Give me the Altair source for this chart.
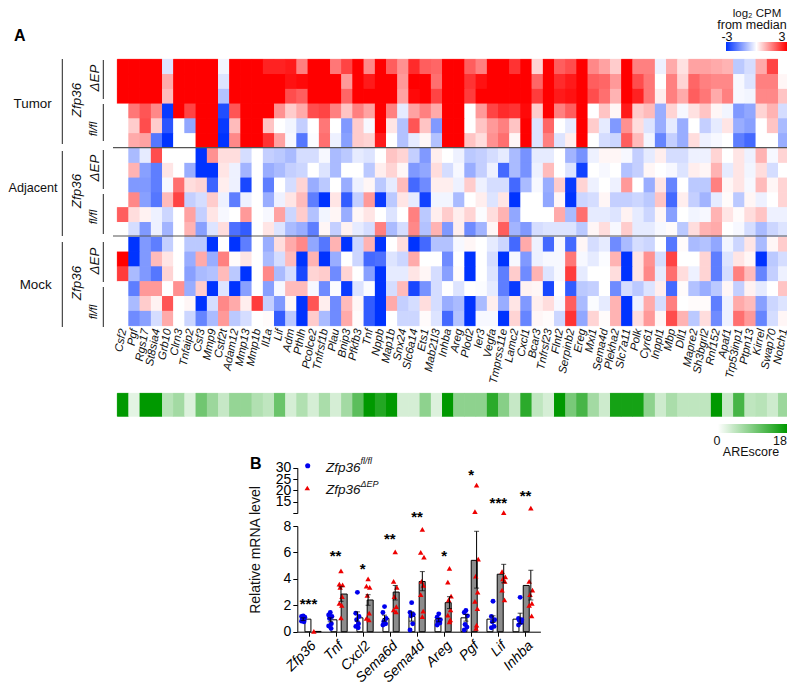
import json
import altair as alt
import pandas as pd

genes = ["Csf2","Pgf","Rgs17","St8sia4","Grb10","Clrn3","Tnfaip2","Csf3","Mmp9","Cstf2t","Adam12","Mmp13","Mmp1b","Il1a","Lif","Adm","Pthlh","Pcolce2","Tnfrsf1b","Plau","Bnip3","Pfkfb3","Tnf","Nppb","Map1b",
         "Snx24","Slc6a14","Ets1","Mab21l3","Inhba","Areg","Plod2","Ier3","Vegfa","Tmprss11e","Lamc2","Cxcl1","Bcar3","Tnfrsf23","Flnt2","Serpinb2","Ereg","Mxi1","Sema4d","Plekha2","Slc7a11","Polk","Cyr61","Inppl1","Mbp","Dll1","Mapre2","Sh3bgrl2","Rnf152","Apaf1","Trp53inp1","Ptpn13","Kirrel","Swap70","Notch1"]

r01 = [3,3,3,3,-0.4,3,3,3,3,-0.15,3,3,3,2.6,2.6,2.7,1.5,3,3,1.6,2.2,3,1.4,3,1.9, 1.3,2.5,1.9,1.8,3,3,1.9,1.5,3,3,2.4,3,0.5,3,1.9,2.1,3,1.4,1.1,0.6,3,1.5,1.5,-0.2,1.0,0.35,1.1,1.1,1.0,0.9,-0.8,-0.5,1.0,2.2,0]
r02 = [3,3,3,3,1.0,3,3,3,3,-0.4,3,3,3,3,3,2.8,2.9,3,3,3,1.2,3,2.7,3,3, 1.2,3,3,1.7,3,3,2.4,2.8,3,3,3,3,1.8,3,2.5,2.7,3,1.9,1.8,1.2,3,2.1,1.6,0,1.5,0.5,1.8,1.5,1.4,1.4,-0.1,-0.4,1.5,1.5,0.1]
r03 = [3,3,3,3,0.8,3,3,3,3,-0.9,3,3,3,3,3,2.1,1.9,3,3,3,1.8,3,3,3,3, 1.1,2.9,3,2.2,3,3,2.3,3,3,3,3,3,2.3,3,2.7,2.8,3,2.1,1.7,0.9,3,2.6,1.6,0.2,1.5,1.0,1.9,1.6,1.0,1.5,-0.1,-0.15,1.4,1.4,0.7]
r04 = [0,1.6,2.0,1.4,-2.9,3,2.2,3,3,-2.6,2.0,3,3,3,1.3,0.6,1.0,2.1,2.2,1.5,0.7,1.5,1.1,3,1.5, -0.3,1.1,1.5,1.0,3,3,0,1.2,2.2,2.5,2.4,2.9,0.6,3,1.5,1.9,3,0,0.7,0.1,2.7,0.6,0.8,-1.2,0.5,-0.1,0.35,0.7,0.1,-0.15,-1.5,-1.3,0.5,0.9,-0.5]
r05 = [0,0.6,2.1,0.6,-2.5,0,-1.3,3,3,-2.9,0.8,3,3,0.7,0,-0.15,-0.7,0,1.6,0,-1.5,0.6,-0.1,3,0.3, -0.9,2.0,0.7,-1.5,3,3,0,0.7,1.2,1.5,0.7,3,-0.4,1.8,0,-0.3,3,0.6,-0.3,-1.5,1.3,0.4,-0.4,-1.2,-0.3,-1.2,0,-0.7,-0.3,0.3,-1.2,-1.4,0,0.7,-1.0]
r06 = [0,1.0,1.1,-2.0,-3,0,0,3,3,-3,1.4,3,3,2.4,1.1,-0.1,-2.0,-0.05,1.7,-0.2,-1.4,0.6,0.5,2.7,0, -0.9,-0.3,0.1,-0.9,3,3,0.7,0.4,1.3,1.7,0.1,3,-0.4,1.5,-0.4,0.2,3,0,-0.5,-0.6,1.9,0.8,-0.15,-1.8,-0.7,-1.2,0.4,-0.2,-0.1,0,-1.9,-2.2,0,0,-1.2]
r07 = [0,-1.0,-0.3,2.1,0,0,0,-3,1.3,0.4,0.4,-0.5,0,-0.7,-0.8,-1.0,-0.5,-0.5,-0.1,-1.0,-0.8,-0.3,-0.4,0,0.7, 0.5,-0.7,-1.5,0.2,0,-0.2,-0.8,-0.7,-0.5,-0.3,-1.0,-1.6,-0.3,-0.3,0,-1.1,-1.6,-0.2,0.1,0.1,-0.1,-0.7,-0.3,0.2,-0.5,-0.5,-0.2,-0.2,0.5,0,0.3,-0.2,0.9,-0.1,0.5]
r08 = [0,0.9,-1.4,-1.9,0.3,0,-1.2,-3,-3,0.3,-0.2,-1.1,0,-1.2,-1.0,-0.7,-0.6,0,-0.4,-1.0,0,0,-0.8,0.2,0.5, 0.1,-1.5,-1.3,0.4,-0.5,-0.1,-1.2,-0.7,-0.2,-2.2,-1.0,-1.6,-0.2,0.8,0,-0.4,-2.8,0,-0.1,0,-0.9,-0.7,0.1,0,-0.1,-0.4,0.2,0.1,0.9,-0.3,0.3,-0.15,0.4,-0.5,0]
r09 = [0,-1.5,-1.5,-1.9,-0.1,1.7,0.4,0.5,-2.3,0.2,-0.2,-2.7,0,-1.9,0,-0.5,0.5,-1.2,-0.8,0,-1.2,-0.2,0.1,-0.8,-0.3, 0.8,-2.2,-1.7,0.2,0.2,-0.2,0.6,-0.2,-0.5,-0.5,-2.2,-1.0,-0.1,-1.2,0.6,-2.9,0.5,-0.2,0,-0.2,1.2,0,-1.2,0.3,-1.8,0,-0.8,-0.8,1.5,0.1,0.3,-0.1,0.8,0.1,0.5]
r10 = [0,1.4,-1.4,-2.0,0.8,2.2,-0.7,-0.5,0.6,-0.2,-1.9,-0.2,0,-1.2,-0.2,0.3,0.8,-1.9,-3,0.3,-2.4,-0.7,1.2,-2.9,-0.8, 0.3,-0.3,-2.8,-0.15,-0.15,-1.0,0,0.2,-0.4,0.3,-3,0,0,-1.3,0.1,-3,-0.6,-0.5,0.1,-0.7,-0.7,-0.6,-0.8,0.7,-2.2,0.2,-0.7,-1.1,-0.3,0.05,-0.8,0.1,-0.2,0,0.5]
r11 = [1.9,0.4,0.15,-0.2,-0.6,0,1.1,-0.7,0.3,-0.1,0,1.2,0,-0.1,1.1,-0.6,0.6,-0.9,-0.15,0.1,-1.2,0.1,0.3,0,-0.4, 0,1.5,-0.8,0.2,0.6,0.2,0.5,-0.05,0.4,0.9,-1.3,0,0,0,1.0,-1.0,1.7,-0.3,-0.3,-0.4,0.15,-0.3,-0.6,0.1,-1.4,0,-0.15,-0.1,0.9,0.3,0.05,0.4,0.7,-0.2,-0.2]
r12 = [0,-0.5,-1.5,-0.2,-1.1,0,0.9,-1.4,-0.4,0.4,-2.1,-2.4,0,0.3,-0.4,-1.0,-1.2,-1.9,0.1,-0.7,0.15,-0.3,-0.5,1.5,-1.0, -0.5,1.4,-0.9,0.9,-1.5,0.2,-1.7,-1.1,0.1,1.9,-1.1,-1.5,-0.5,-0.4,-0.4,-0.4,-0.8,0.1,0.4,-0.1,0.6,-0.3,-0.3,-0.1,0.05,-0.8,0.4,0.9,1.0,0,-0.1,-0.5,-1.0,-0.6,-0.4]
r13 = [0,-3,-1.5,-1.9,-0.7,0,-0.8,-0.8,-3,0,-3,-1.9,0,-1.2,0.4,1.0,1.4,-1.3,-2,0.9,-3,-0.6,0.9,-3,0, 0.4,-3,-2.2,-0.9,-0.9,-0.1,0.1,0,-0.3,-0.6,-2.2,1.0,-0.2,-2.2,-0.1,-2.2,0.1,-0.5,-0.3,-1.7,-1.0,-0.5,-0.6,0,-2.0,0.05,-1.0,-0.9,-1.3,-0.15,-0.6,0.3,-1.0,0.1,0.6]
r14 = [3,-3,-1.5,0.8,0.3,0,-1.2,1.0,-1.2,1.5,0.05,0.3,0,-1.0,-0.5,0.8,-3,0.9,-3,-1.2,0,-0.6,-2.2,-2.1,-0.4, -0.6,1.0,0,0,-1.7,0,-3,0,-0.5,-3,-0.1,-1.5,-0.2,-0.1,-0.1,1.6,-0.1,-0.3,-0.05,0.9,-3,0.3,1.3,-0.5,2.2,0,0,0.5,-1.9,-0.4,0.3,0.1,-3,-0.8,-0.5]
r15 = [2.3,-1.0,-1.5,-2.0,0.5,0,-1.4,-1.0,-0.9,0.8,-0.8,-3,0,1.4,-1.0,-0.5,-2.7,0.5,0.6,-1.7,0.5,0,-1.4,-3,-0.3, -0.3,0.3,0.1,-0.5,-1.4,0.05,-3,0,-0.4,-1.9,0.6,-1.7,0.9,-0.4,-0.1,2.3,-0.3,0,0,0.4,-3,0.3,1.4,-0.3,1.7,0.4,-0.2,0.5,-1.9,-0.5,1.5,0.8,-1.8,-0.7,-0.2]
r16 = [0,-1.9,1.2,1.2,0,1.3,-1.2,0.6,-3,-0.4,-3,-1.4,0,-1.4,-0.1,0.8,0.8,-0.1,-1.7,-0.05,-2.9,-0.4,-0.05,-3,-0.5, 0.8,-2.7,-1.6,-0.5,0,-0.4,0,-0.05,-0.3,-1.9,-2.9,0.15,0.1,-2.7,0,-2.4,-0.8,-0.7,0,-1.7,-0.5,-0.8,-0.4,0.2,-2.2,0.05,-0.9,-1.2,-0.8,0.1,-0.7,0.15,-0.3,0,0.7]
r17 = [0,-1.0,0.6,0.15,2.0,0,0.1,-3,-0.5,1.4,1.0,0.2,2.3,-0.7,-1.5,0.1,-3,2.0,0.2,-1.7,0.8,0.1,-2.4,-3,1.0, -0.7,-0.5,0.4,-0.5,-1.2,-1.0,-3,-1.0,0.2,-1.2,0.3,-1.5,0.2,0.4,-0.1,1.9,-1.0,-0.05,-0.3,0.9,-3,-0.2,1.0,-0.5,1.5,0,0.05,0.05,-1.9,-0.2,1.0,0.8,-1.4,-0.6,-0.4]
r18 = [0,-1.7,-1.4,-0.5,1.0,0,-0.6,-1.8,-1.0,1.2,-0.8,-0.5,0,0.05,-2.4,-0.8,-3,0.6,-1.0,-1.7,1.0,0.05,-2.4,-3,0, -0.6,-0.6,0.05,-0.4,-2.2,-0.9,-3,-0.1,-0.1,-3,0.5,-1.8,0.1,0.05,-0.6,2.4,-1.3,0.5,0.05,0.9,-3,0.4,1.2,0.1,2.1,0.9,-0.8,0.4,-1.7,-0.2,1.7,1.2,-1.8,-0.5,0.1]
heat_rows = [r01,r02,r03,r04,r05,r06,r07,r08,r09,r10,r11,r12,r13,r14,r15,r16,r17,r18]

are_score = [18,2,18,18,5,6.5,2.5,10,7,4,7.5,7.5,5.5,4.5,10.5,3,5.5,3,6,3,6.5,11.5,18,15.5,18,
             3,3,8,2.5,18,8,8,8,15,8.5,4,15,4.5,3,18,9.5,13,6.5,3.5,16.5,16.5,16.5,8,3.5,6,4.5,4.5,4.5,18,4,13,4.5,5,3.5,7]

qpcr_genes = ["Zfp36","Tnf","Cxcl2","Sema6d","Sema4d","Areg","Pgf","Lif","Inhba"]
mean_fl = [0.95,0.9,1.05,1.0,1.15,0.9,1.05,0.95,0.95]
low_fl  = [0.85,0.75,0.8,0.8,0.8,0.75,0.8,0.7,0.6]
high_fl = [1.05,1.05,1.5,1.25,1.5,1.0,1.3,1.2,1.4]
mean_ep = [0.02,2.85,2.4,3.0,3.8,2.2,5.4,4.35,3.5]
low_ep  = [0.02,2.3,2.0,2.4,3.1,1.75,3.3,3.7,2.4]
high_ep = [0.02,3.4,2.8,3.5,4.55,2.65,7.6,5.1,4.65]
pts_fl = [[1.2,1.15,1.1,1.0,0.9,0.8,0.75],
          [1.46,1.26,1.15,1.0,0.6,0.43,0.25],
          [2.98,1.4,1.15,0.9,0.6,0.4,0.3],
          [1.9,1.45,1.0,0.75,0.6,0.5],
          [2.2,1.45,1.3,1.2,0.6,0.13],
          [1.35,1.1,0.9,0.75,0.65,0.5],
          [1.6,1.45,1.2,0.55,0.35,0.13],
          [2.3,1.15,0.9,0.75,0.4,0.3],
          [2.6,1.0,0.9,0.85,0.7,0.5]]
pts_ep = [[0.02],
          [4.6,3.6,3.55,3.35,2.65,2.15,2.0,1.05],
          [4.0,3.45,3.35,2.75,1.4,1.0,0.9],
          [6.05,3.8,3.35,2.65,1.9,1.65,1.5],
          [7.75,6.0,5.65,3.8,3.5,2.8,1.55,1.15],
          [4.8,3.75,2.7,2.4,1.65,1.25,0.9,0.75],
          [22.35,10.65,5.5,4.2,3.0,2.3,1.75,0.5,0.25],
          [10.2,4.55,4.15,4.0,3.8,3.15,2.4],
          [12.2,3.8,3.15,2.8,2.15,2.0,1.2]]
jitter = [0.0,-0.06,0.06,-0.03,0.04,-0.06,0.03,0.0,-0.02]
stars = ["***","**","*","**","**","*","*","***","**"]
star_level = [2.25,5.9,4.9,7.2,8.8,5.9,12.0,9.9,10.4]

FONT = "Liberation Sans"
W, H = 779, 674
def px(v):
    return v - 8

hm_x = [px(117.3), px(789.3)]
hm_y = [px(59.3), px(325.7)]
are_y = [px(393.3), px(416.3)]
gx_scale = alt.Scale(domain=[-0.4133, 8.55], range=[px(297.3), px(540.4)])
low_scale = alt.Scale(domain=[0, 8], range=[px(631.7), px(526)])
up_scale = alt.Scale(domain=[10, 30], range=[px(513), px(467.7)])
OFF = 0.197

heat_df = pd.DataFrame([{"gene": g, "row": i, "v": row[j]}
                        for i, row in enumerate(heat_rows) for j, g in enumerate(genes)])
are_df = pd.DataFrame({"gene": genes, "score": are_score, "band": ["a"] * len(genes)})
gene_df = pd.DataFrame({"gene": genes})

def text(t, x, y, size=13, **kw):
    return alt.Chart(pd.DataFrame({"t": [t]})).mark_text(fontSize=size, font=FONT, **kw).encode(
        text="t:N", x=alt.value(px(x)), y=alt.value(px(y)))

def vline(x, y1, y2, color="#222222"):
    return alt.Chart(pd.DataFrame({"a": [0]})).mark_rule(color=color, strokeWidth=1).encode(
        x=alt.value(px(x)), y=alt.value(px(y1)), y2=alt.value(px(y2)))

def hline(x1, x2, y, color="#555555"):
    return alt.Chart(pd.DataFrame({"a": [0]})).mark_rule(color=color, strokeWidth=1.2).encode(
        x=alt.value(px(x1)), x2=alt.value(px(x2)), y=alt.value(px(y)))

layers = []

heat_colors = alt.Scale(domain=[-3, 0, 3], range=["#0033ff", "#ffffff", "#ff0000"], interpolate="rgb")
are_colors = alt.Scale(domain=[0, 18], range=["#ffffff", "#009900"], interpolate="rgb")
gene_x = alt.X("gene:N", sort=genes, axis=None, scale=alt.Scale(domain=genes, range=hm_x, paddingInner=0, paddingOuter=0))
row_y = alt.Y("row:O", axis=None, scale=alt.Scale(domain=list(range(18)), range=hm_y, paddingInner=0, paddingOuter=0))
band_y = alt.Y("band:N", axis=None, scale=alt.Scale(domain=["a"], range=are_y, paddingInner=0, paddingOuter=0))

# underlayer closes the hairline seams between cells
layers.append(alt.Chart(heat_df).mark_rect(strokeWidth=0.6).encode(
    x=gene_x, y=row_y,
    color=alt.Color("v:Q", scale=heat_colors, legend=None),
    stroke=alt.Stroke("v:Q", scale=heat_colors, legend=None),
))
layers.append(alt.Chart(heat_df).mark_rect().encode(
    x=gene_x, y=row_y,
    color=alt.Color("v:Q", scale=heat_colors,
                    legend=alt.Legend(orient="none", legendX=px(726), legendY=px(42), direction="horizontal",
                                      gradientLength=61, gradientThickness=9, title=None, labelExpr="''",
                                      gradientStrokeWidth=0, tickCount=2)),
))

layers.append(alt.Chart(gene_df).mark_text(angle=281, align="right", baseline="middle", fontStyle="italic",
                                           fontSize=11.3, font=FONT, dx=3, color="#111111").encode(
    x=gene_x,
    y=alt.value(px(332)),
    text="gene:N",
))

layers.append(alt.Chart(are_df).mark_rect(strokeWidth=0.6).encode(
    x=gene_x, y=band_y,
    color=alt.Color("score:Q", scale=are_colors, legend=None),
    stroke=alt.Stroke("score:Q", scale=are_colors, legend=None),
))
layers.append(alt.Chart(are_df).mark_rect().encode(
    x=gene_x, y=band_y,
    color=alt.Color("score:Q", scale=are_colors,
                    legend=alt.Legend(orient="none", legendX=px(718), legendY=px(424), direction="horizontal",
                                      gradientLength=69, gradientThickness=9, title=None, labelExpr="''",
                                      gradientStrokeWidth=0, tickCount=2)),
))

for y in (147.7, 236):
    layers.append(hline(113, 787, y))
for a, b in ((59, 144), (151, 236), (242, 327)):
    layers.append(vline(62.3, a, b))
for a, b in ((60, 99), (104, 141), (150, 189), (194, 234), (242, 282), (287, 327)):
    layers.append(vline(103.3, a, b))

layers.append(text("Tumor", 51.7, 104, 13.4, align="right", baseline="middle", color="#111111"))
layers.append(text("Adjacent", 57.5, 188, 12.6, align="right", baseline="middle", color="#111111"))
layers.append(text("Mock", 51.7, 285, 13.4, align="right", baseline="middle", color="#111111"))
for y in (100, 191, 283):
    layers.append(text("Zfp36", 77, y, 13.4, angle=270, align="center", baseline="middle", fontStyle="italic", color="#111111"))
for y in (78, 168, 261):
    layers.append(text("ΔEP", 95, y, 13.4, angle=270, align="center", baseline="middle", fontStyle="italic", color="#111111"))
for y in (129, 217, 312):
    layers.append(text("fl/fl", 94, y, 11.5, angle=270, align="center", baseline="middle", fontStyle="italic", color="#111111"))

layers.append(text("A", 14, 36, 16, align="left", baseline="middle", fontWeight="bold"))
layers.append(text("B", 250, 464, 16, align="left", baseline="middle", fontWeight="bold"))

layers.append(text("log₂ CPM", 757, 13.5, 11.5, align="center", baseline="middle", color="#111111"))
layers.append(text("from median", 752, 24.5, 12.5, align="center", baseline="middle", color="#111111"))
layers.append(text("-3", 727, 36.5, 12.5, align="center", baseline="middle", color="#111111"))
layers.append(text("3", 782, 36.5, 12.5, align="center", baseline="middle", color="#111111"))
layers.append(text("0", 717, 441, 12.5, align="center", baseline="middle", color="#111111"))
layers.append(text("18", 787, 441, 12.5, align="right", baseline="middle", color="#111111"))
layers.append(text("AREscore", 751, 452, 12.5, align="center", baseline="middle", color="#111111"))

bars = []
for i, g in enumerate(qpcr_genes):
    bars.append({"gene": g, "pos": i - OFF, "mean": mean_fl[i], "lo": low_fl[i], "hi": high_fl[i], "grp": "fl"})
    bars.append({"gene": g, "pos": i + OFF, "mean": mean_ep[i], "lo": low_ep[i], "hi": high_ep[i], "grp": "ep"})
bar_df = pd.DataFrame(bars)

low_y = alt.Y("mean:Q", scale=low_scale, axis=None, stack=None)
px_x = alt.X("pos:Q", scale=gx_scale, axis=None)

layers.append(alt.Chart(bar_df).mark_bar(size=6, stroke="black", strokeWidth=1, orient="vertical").encode(
    x=px_x, y=low_y,
    fill=alt.Fill("grp:N", scale=alt.Scale(domain=["fl", "ep"], range=["#ffffff", "#8c8c8c"]), legend=None),
))

pt_rows = []
for i, vals in enumerate(pts_fl):
    for k, v in enumerate(vals):
        pt_rows.append({"pos": i - OFF + jitter[k], "v": v, "grp": "fl"})
for i, vals in enumerate(pts_ep):
    for k, v in enumerate(vals):
        pt_rows.append({"pos": i + OFF + jitter[k], "v": v, "grp": "ep"})
pt_df = pd.DataFrame(pt_rows)
low_df = pt_df[pt_df.v <= 8]
up_df = pt_df[pt_df.v > 8]

for df, sc in ((low_df, low_scale), (up_df, up_scale)):
    for grp, col, shape, sz in (("fl", "#0000ee", "circle", 24), ("ep", "#ee0000", "triangle-up", 30)):
        sub = df[df.grp == grp]
        if len(sub):
            layers.append(alt.Chart(sub).mark_point(filled=True, opacity=1, size=sz, color=col, shape=shape).encode(
                x=px_x, y=alt.Y("v:Q", scale=sc, axis=None)))

err_df = bar_df[bar_df.lo != bar_df.hi]
layers.append(alt.Chart(err_df).mark_rule(color="black", strokeWidth=1).encode(
    x=px_x, y=alt.Y("lo:Q", scale=low_scale, axis=None), y2="hi:Q"))
for fld in ("lo", "hi"):
    layers.append(alt.Chart(err_df).mark_tick(color="black", size=5, thickness=1, orient="horizontal").encode(
        x=px_x, y=alt.Y(f"{fld}:Q", scale=low_scale, axis=None)))

star_df = pd.DataFrame({"i": list(range(9)), "s": stars, "lvl": star_level})
layers.append(alt.Chart(star_df).mark_text(fontSize=15, font=FONT, fontWeight="bold", baseline="middle", dy=2, color="black").encode(
    x=alt.X("i:Q", scale=gx_scale, axis=None),
    y=alt.Y("lvl:Q", scale=low_scale, axis=None),
    text="s:N"))

label_expr = json.dumps(qpcr_genes) + "[datum.value]"
axis_style = dict(domainColor="black", tickColor="black", labelColor="black", labelFont=FONT, labelFontSize=14,
                  titleFont=FONT, grid=False, domainWidth=1, tickWidth=1, tickSize=4.5, labelPadding=2, labelOverlap=False)
layers.append(alt.Chart(star_df).mark_point(opacity=0).encode(
    x=alt.X("i:Q", scale=gx_scale, axis=alt.Axis(values=list(range(9)), labelExpr=label_expr, labelAngle=-45,
            labelFontStyle="italic", title=None, orient="bottom", offset=-(H - px(631.7)), labelAlign="right",
            labelBaseline="top", **axis_style)),
    y=alt.Y("lvl:Q", scale=low_scale, axis=alt.Axis(values=[0, 2, 4, 6, 8], orient="left", offset=-px(297.3), title=None, **axis_style)),
))
layers.append(alt.Chart(pd.DataFrame({"b": [15, 20]})).mark_point(opacity=0).encode(
    y=alt.Y("b:Q", scale=up_scale, axis=alt.Axis(values=[10, 15, 20, 25, 30], labelExpr="datum.value == 10 ? '' : datum.value",
            orient="left", offset=-px(297.3), title=None, **axis_style)),
))
layers.append(text("Relative mRNA level", 256, 550, 14, angle=270, align="center", baseline="middle", color="#111111"))

layers.append(alt.Chart(pd.DataFrame({"a": [0]})).mark_point(filled=True, opacity=1, size=26, color="#0000ee", shape="circle").encode(
    x=alt.value(px(307.7)), y=alt.value(px(465.7))))
layers.append(alt.Chart(pd.DataFrame({"a": [0]})).mark_point(filled=True, opacity=1, size=30, color="#ee0000", shape="triangle-up").encode(
    x=alt.value(px(307.3)), y=alt.value(px(488))))
layers.append(text("Zfp36", 326, 467.5, 13.5, align="left", baseline="middle", fontStyle="italic", color="#111111"))
layers.append(text("fl/fl", 360.5, 461, 9, align="left", baseline="middle", fontStyle="italic", color="#111111"))
layers.append(text("Zfp36", 326, 490, 13.5, align="left", baseline="middle", fontStyle="italic", color="#111111"))
layers.append(text("ΔEP", 360.5, 483.5, 9, align="left", baseline="middle", fontStyle="italic", color="#111111"))

chart = alt.layer(*layers).resolve_scale(x="independent", y="independent", color="independent", fill="independent", stroke="independent").properties(
    width=W, height=H, padding=0, autosize=alt.AutoSizeParams(type="none"),
).configure(font=FONT).configure_view(stroke=None)

chart.save("out.html", embed_options={"renderer": "svg", "actions": False})
